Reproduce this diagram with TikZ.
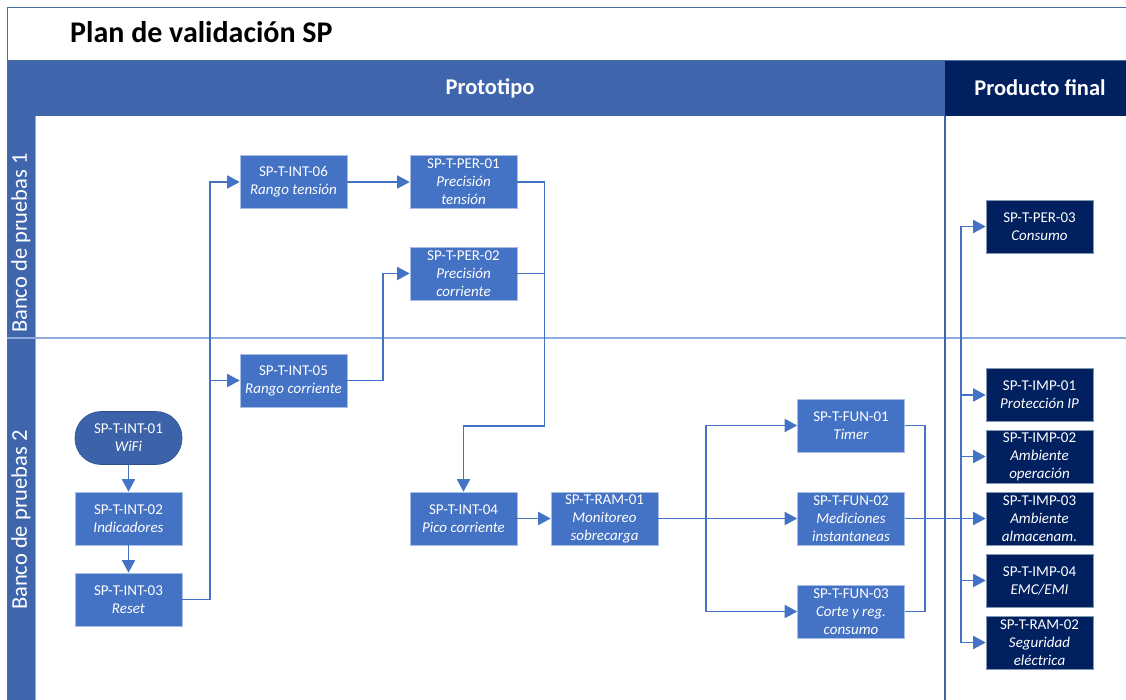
\documentclass[tikz,border=0pt]{standalone}
\usepackage{fontspec}
\setmainfont{Carlito}
\usetikzlibrary{arrows.meta}
\usetikzlibrary{positioning}
\definecolor{lanecol}{HTML}{3F65AD}
\definecolor{boxcol}{HTML}{4472C4}
\definecolor{boxline}{HTML}{A9BEE4}
\definecolor{startcol}{HTML}{3C62A9}
\definecolor{startline}{HTML}{2F528F}
\definecolor{darkcol}{HTML}{002060}
\definecolor{darkline}{HTML}{8497B0}
\definecolor{framecol}{HTML}{4A6AA0}
\definecolor{divcol}{HTML}{8FAADC}

\begin{document}
\begin{tikzpicture}[x=1pt,y=-1pt,
	testbox/.style={draw=boxline, line width=0.6pt, fill=boxcol, text=white, minimum width=107pt, minimum height=53pt, inner sep=0pt, align=center, font=\fontsize{15}{18}\selectfont},
	finalbox/.style={testbox, fill=darkcol, draw=darkline},
	startbox/.style={testbox, fill=startcol, draw=startline, rounded corners=26pt},
	flow/.style={draw=boxcol, line width=1.7pt, -{Triangle[length=12.5pt,width=13pt]}},
	link/.style={draw=boxcol, line width=1.7pt}]
	% draw frame
	\useasboundingbox (0,0) rectangle (1126,700);
	\fill[white] (0,0) rectangle (1126,700);
	\fill[lanecol] (7,61) rectangle (945,116);
	\fill[darkcol] (945,61) rectangle (1126,116);
	\fill[lanecol] (7,116) rectangle (35,700);
	\draw[framecol, line width=1pt] (7,700) -- (7,7.5) -- (1126,7.5);
	\draw[framecol, line width=1pt] (7,61) -- (1126,61);
	\draw[divcol, line width=1.2pt] (7,338) -- (1126,338);
	\draw[divcol, line width=0.8pt] (35,116) -- (35,700);
	\draw[lanecol, line width=1.2pt] (945,116) -- (945,700);
	% titles
	\node[anchor=base west, inner sep=0pt, font=\fontsize{30}{36}\selectfont\bfseries] (title) at (70,43) {Plan de validación SP};
	\node[text=white, font=\fontsize{22.5}{27}\selectfont\bfseries] (proto) at (490,88) {Prototipo};
	\node[text=white, font=\fontsize{22.5}{27}\selectfont\bfseries] (final) at (1040,88) {Producto final};
	\node[rotate=90, text=white, font=\fontsize{22.5}{27}\selectfont] (lane1) at (21,243) {Banco de pruebas 1};
	\node[rotate=90, text=white, font=\fontsize{22.5}{27}\selectfont] (lane2) at (21,520) {Banco de pruebas 2};
	% add tests
	\node[startbox] (int01) at (128.5,438) {SP-T-INT-01\\\textit{WiFi}};
	\node[testbox] (int02) at (128.5,518.5) {SP-T-INT-02\\\textit{Indicadores}};
	\node[testbox] (int03) at (128.5,599.5) {SP-T-INT-03\\\textit{Reset}};
	\node[testbox] (int06) at (293.5,182) {SP-T-INT-06\\\textit{Rango tensión}};
	\node[testbox] (int05) at (293.5,380.5) {SP-T-INT-05\\\textit{Rango corriente}};
	\node[testbox] (per01) at (463.5,182) {SP-T-PER-01\\\textit{Precisión}\\\textit{tensión}};
	\node[testbox] (per02) at (463.5,273.5) {SP-T-PER-02\\\textit{Precisión}\\\textit{corriente}};
	\node[testbox] (int04) at (463.5,518.5) {SP-T-INT-04\\\textit{Pico corriente}};
	\node[testbox] (ram01) at (604.5,518.5) {SP-T-RAM-01\\\textit{Monitoreo}\\\textit{sobrecarga}};
	\node[testbox] (fun01) at (851,425.5) {SP-T-FUN-01\\\textit{Timer}};
	\node[testbox] (fun02) at (851,518.5) {SP-T-FUN-02\\\textit{Mediciones}\\\textit{instantaneas}};
	\node[testbox] (fun03) at (851,611.5) {SP-T-FUN-03\\\textit{Corte y reg.}\\\textit{consumo}};
	\node[finalbox] (per03) at (1039.5,226.5) {SP-T-PER-03\\\textit{Consumo}};
	\node[finalbox] (imp01) at (1039.5,395) {SP-T-IMP-01\\\textit{Protección IP}};
	\node[finalbox] (imp02) at (1039.5,456.5) {SP-T-IMP-02\\\textit{Ambiente}\\\textit{operación}};
	\node[finalbox] (imp03) at (1039.5,518.5) {SP-T-IMP-03\\\textit{Ambiente}\\\textit{almacenam.}};
	\node[finalbox] (imp04) at (1039.5,580.5) {SP-T-IMP-04\\\textit{EMC/EMI}};
	\node[finalbox] (ram02) at (1039.5,642.5) {SP-T-RAM-02\\\textit{Seguridad}\\\textit{eléctrica}};
	% split points
	\coordinate (s1) at (210,380.5);
	\coordinate (s2) at (383,273.5);
	\coordinate (s3) at (544.6,426);
	\coordinate (s4) at (706,518.5);
	\coordinate (s5) at (925,518.5);
	\coordinate (s6) at (961,518.5);
	% draw flows
	\draw[flow] (int01) -- (int02);
	\draw[flow] (int02) -- (int03);
	\draw[flow] (int03.east) -| (s1) |- (int06.west);
	\draw[flow] (s1) -- (int05.west);
	\draw[flow] (int06) -- (per01);
	\draw[flow] (int05.east) -| (s2) -- (per02.west);
	\draw[flow] (per01.east) -| (s3) -| (int04.north);
	\draw[link] (per02.east) -- (per02.east -| s3);
	\draw[flow] (int04) -- (ram01);
	\draw[flow] (ram01) -- (fun02);
	\draw[flow] (s4) |- (fun01.west);
	\draw[flow] (s4) |- (fun03.west);
	\draw[link] (fun01.east) -| (s5) |- (fun03.east);
	\draw[flow] (fun02) -- (imp03);
	\foreach \n in {per03,imp01,imp02,imp04,ram02}
		\draw[flow] (s6) |- (\n.west);
\end{tikzpicture}
\end{document}
